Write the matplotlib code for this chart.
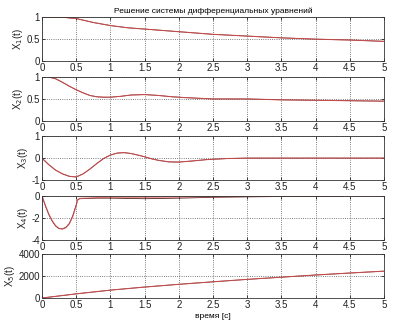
import matplotlib
matplotlib.use('Agg')
import matplotlib.pyplot as plt
import numpy as np

plt.rcParams['font.family'] = ['Liberation Sans', 'DejaVu Sans']
plt.rcParams['font.size'] = 7

# время, с
t1 = [0, 0.3, 0.5, 0.75, 1.0, 1.25, 1.5, 2.0, 2.5, 3.0, 3.5, 4.0, 4.5, 5.0]
x1 = [1.0, 1.0, 0.97, 0.88, 0.81, 0.76, 0.73, 0.67, 0.61, 0.57, 0.53, 0.50, 0.48, 0.45]

t2 = [0, 0.1, 0.2, 0.3, 0.4, 0.5, 0.6, 0.7, 0.8, 0.9, 1.0, 1.15, 1.3, 1.5, 1.7, 1.9, 2.1, 2.5, 3.0, 3.5, 4.0, 4.5, 5.0]
x2 = [1.0, 1.0, 0.96, 0.88, 0.79, 0.71, 0.64, 0.58, 0.55, 0.54, 0.54, 0.56, 0.59, 0.60, 0.58, 0.55, 0.53, 0.50, 0.50, 0.48, 0.47, 0.46, 0.45]

t3 = [0, 0.1, 0.2, 0.3, 0.4, 0.5, 0.6, 0.7, 0.8, 0.9, 1.0, 1.1, 1.2, 1.3, 1.4, 1.5, 1.6, 1.7, 1.85, 2.0, 2.2, 2.4, 2.7, 3.0, 3.5, 4.0, 4.5, 5.0]
x3 = [0.0, -0.3, -0.55, -0.72, -0.83, -0.86, -0.72, -0.5, -0.25, -0.02, 0.14, 0.23, 0.25, 0.21, 0.14, 0.06, -0.03, -0.1, -0.17, -0.18, -0.13, -0.07, -0.02, 0.0, 0.0, 0.0, 0.0, 0.0]

t4 = [0, 0.05, 0.1, 0.15, 0.2, 0.25, 0.3, 0.35, 0.4, 0.45, 0.5, 0.52, 0.55, 0.8, 1.0, 1.5, 2.0, 2.5, 3.0, 3.5, 4.0, 4.4]
x4 = [0.0, -0.9, -1.7, -2.3, -2.75, -2.98, -3.0, -2.85, -2.5, -1.8, -0.8, -0.35, -0.25, -0.2, -0.2, -0.25, -0.2, -0.12, -0.08, -0.05, -0.03, -0.02]
t4r = [0, 0.05, 0.1, 0.15, 0.2, 0.25, 0.3, 0.35, 0.4, 0.45, 0.5, 0.52, 0.55, 0.8, 1.0, 1.5, 2.0, 2.5, 3.0, 3.5, 4.0, 4.5, 5.0]
x4r = [0.0, -0.85, -1.65, -2.25, -2.7, -2.95, -3.02, -2.9, -2.55, -1.9, -0.9, -0.4, -0.22, -0.15, -0.12, -0.12, -0.1, -0.07, -0.05, -0.03, -0.02, -0.01, 0.0]

t5 = [0, 0.5, 1.0, 1.5, 2.0, 2.5, 3.0, 3.5, 4.0, 4.5, 5.0]
x5 = [0, 380, 720, 1000, 1250, 1480, 1700, 1900, 2100, 2280, 2450]

labels = ['X$_1$(t)', 'X$_2$(t)', 'X$_3$(t)', 'X$_4$(t)', 'X$_5$(t)']
ylims = [(0, 1), (0, 1), (-1, 1), (-4, 0), (0, 4000)]
yticks = [[0, 0.5, 1], [0, 0.5, 1], [-1, 0, 1], [-4, -2, 0], [0, 2000, 4000]]
ytick_labels = [['0', '0.5', '1'], ['0', '0.5', '1'], ['-1', '0', '1'], ['-4', '-2', '0'], ['0', '2000', '4000']]
xticks = [0, 0.5, 1, 1.5, 2, 2.5, 3, 3.5, 4, 4.5, 5]
xtick_labels = ['0', '0.5', '1', '1.5', '2', '2.5', '3', '3.5', '4', '4.5', '5']

curves = [[(t1, x1), (t1, x1)],
          [(t2, x2), (t2, x2)],
          [(t3, x3), (t3, x3)],
          [(t4, x4), (t4r, x4r)],
          [(t5, x5), (t5, x5)]]

fig = plt.figure(figsize=(3.96, 3.25), dpi=100)
bottoms = [0.812, 0.628, 0.446, 0.262, 0.083]
for i in range(5):
    ax = fig.add_axes([0.106, bottoms[i], 0.864, 0.135])
    (ta, xa), (tb, xb) = curves[i]
    ax.plot(ta, xa, color='#502020', lw=0.6)
    ax.plot(tb, xb, color='#e05050', lw=0.8, alpha=0.75)
    ax.set_xlim(0, 5)
    ax.set_ylim(*ylims[i])
    ax.set_xticks(xticks)
    ax.set_xticklabels(xtick_labels)
    ax.set_yticks(yticks[i])
    ax.set_yticklabels(ytick_labels[i])
    ax.grid(True, linestyle=':', color='#555555', lw=0.6)
    ax.tick_params(direction='in', length=2.5, width=0.6, pad=1.5, top=True, right=True,
                   colors='#222222')
    for s in ax.spines.values():
        s.set_linewidth(0.6)
        s.set_color('#333333')
    ax.set_ylabel(labels[i], labelpad=1, color='#222222')
    if i == 0:
        ax.set_title('Решение системы дифференциальных уравнений', fontsize=6, pad=3)
    if i == 4:
        ax.set_xlabel('время [с]', labelpad=2, fontsize=6)

fig.savefig('out.png', dpi=100)
